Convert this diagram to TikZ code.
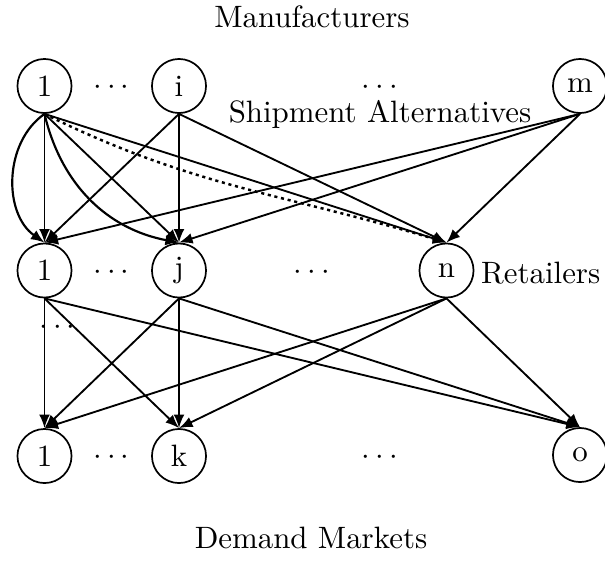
\documentclass[tikz,border=0pt]{standalone}
\usetikzlibrary{arrows.meta}
\begin{document}
\begin{tikzpicture}[x=0.3236pt,y=-0.3236pt,
  netnode/.style={draw,circle,line width=0.55pt,minimum size=17.5pt,inner sep=1pt},
  link/.style={line width=0.6pt,-{Latex[length=4.4pt,width=3.5pt]}},
  altlink/.style={link,line width=0.7pt},
  dotlink/.style={link,line width=0.8pt,dash pattern=on 1pt off 1.2pt},
  lbl/.style={inner sep=0pt}]
\path[use as bounding box] (0,0) rectangle (605,561);

% manufacturers
\node[netnode] (M1) at (44.5,86) {1};
\node[netnode] (Mi) at (179,86) {i};
\node[netnode] (Mm) at (580,86) {m};
% retailers
\node[netnode] (R1) at (44.5,270.5) {1};
\node[netnode] (Rj) at (179,270.5) {j};
\node[netnode] (Rn) at (446.5,270.5) {n};
% demand markets
\node[netnode] (D1) at (44.5,456) {1};
\node[netnode] (Dk) at (179,456) {k};
\node[netnode] (Do) at (580,455) {o};

% ellipses
\node[lbl] (dtA) at (111.5,88) {$\cdots$};
\node[lbl] (dtB) at (380,88) {$\cdots$};
\node[lbl] (dtC) at (111.5,273) {$\cdots$};
\node[lbl] (dtD) at (312,273) {$\cdots$};
\node[lbl] (dtE) at (57.5,328) {$\cdots$};
\node[lbl] (dtF) at (111.5,458) {$\cdots$};
\node[lbl] (dtG) at (380,458) {$\cdots$};

% tier labels
\node[lbl,anchor=base] (tM) at (312,27) {Manufacturers};
\node[lbl,anchor=base] (tS) at (380,122) {Shipment Alternatives};
\node[lbl,anchor=base west] (tR) at (480.5,283) {Retailers};
\node[lbl,anchor=base] (tD) at (311,548) {Demand Markets};

% manufacturer -> retailer shipments
\draw[link] (M1.south) -- (R1.north);
\draw[link] (M1.south) -- (Rj.north);
\draw[link] (M1.south) -- (Rn.north);
\draw[altlink] (M1.south) to[bend right=55] (R1.north);
\draw[altlink] (M1.south) to[bend right=33] (Rj.north);
\draw[dotlink] (M1.south) .. controls (191.5,187) and (288.7,194.8) .. (Rn.north);
\draw[link] (Mi.south) -- (R1.north);
\draw[link] (Mi.south) -- (Rj.north);
\draw[link] (Mi.south) -- (Rn.north);
\draw[link] (Mm.south) -- (R1.north);
\draw[link] (Mm.south) -- (Rj.north);
\draw[link] (Mm.south) -- (Rn.north);

% retailer -> demand market shipments
\draw[link] (R1.south) -- (D1.north);
\draw[link] (R1.south) -- (Dk.north);
\draw[link] (R1.south) -- (Do.north);
\draw[link] (Rj.south) -- (D1.north);
\draw[link] (Rj.south) -- (Dk.north);
\draw[link] (Rj.south) -- (Do.north);
\draw[link] (Rn.south) -- (D1.north);
\draw[link] (Rn.south) -- (Dk.north);
\draw[link] (Rn.south) -- (Do.north);
\end{tikzpicture}
\end{document}
